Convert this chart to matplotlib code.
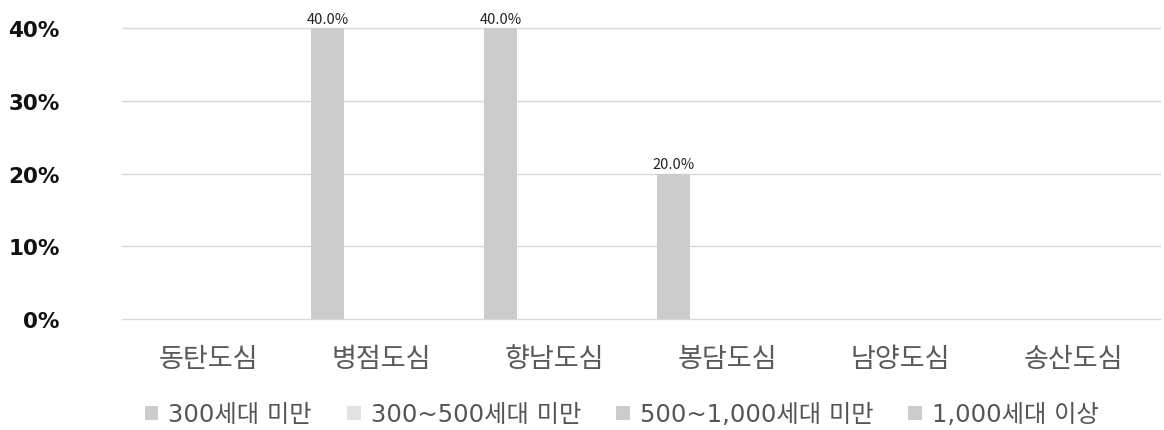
import numpy as np
import matplotlib.pyplot as plt

plt.rcParams['font.family'] = ['Noto Sans CJK KR', 'DejaVu Sans']

# 데이터
categories = ['동탄도심', '병점도심', '향남도심', '봉담도심', '남양도심', '송산도심']
series_names = ['300세대 미만', '300~500세대 미만', '500~1,000세대 미만', '1,000세대 이상']
values = {
    '300세대 미만': [0.0, 40.0, 40.0, 20.0, 0.0, 0.0],
    '300~500세대 미만': [0.0, 0.0, 0.0, 0.0, 0.0, 0.0],
    '500~1,000세대 미만': [0.0, 0.0, 0.0, 0.0, 0.0, 0.0],
    '1,000세대 이상': [0.0, 0.0, 0.0, 0.0, 0.0, 0.0],
}
colors = ['#cccccc', '#e3e3e3', '#cccccc', '#cccccc']

fig = plt.figure(figsize=(11.64, 4.31), dpi=100)
ax = fig.add_axes([0.1048, 0.2575, 0.892, 0.6752])

x = np.arange(len(categories))
width = 0.19
step = 0.207
for i, name in enumerate(series_names):
    vals = np.array(values[name])
    pos = x + (i - 1.5) * step
    ax.bar(pos, vals, width=width, color=colors[i], label=name, zorder=3)
    for p, v in zip(pos, vals):
        if v > 0:
            ax.text(p, v + 0.3, f'{v:.1f}%', ha='center', va='bottom',
                    fontsize=10.5, color='#222222')

ax.set_ylim(0, 40)
ax.set_xlim(-0.5, 5.5)
ax.set_yticks([0, 10, 20, 30, 40])
ax.set_yticklabels([f'{t}%' for t in [0, 10, 20, 30, 40]],
                   fontsize=15.5, fontweight='bold', color='#111111',
                   family='DejaVu Sans')
ax.set_xticks(x)
ax.set_xticklabels(categories, fontsize=19.5, color='#5a5a5a')
ax.tick_params(axis='y', length=0, pad=45)
ax.tick_params(axis='x', length=0, pad=19)
ax.grid(axis='y', color='#d9d9d9', linewidth=1, zorder=0)
for gl in ax.get_ygridlines():
    gl.set_clip_on(False)
for s in ax.spines.values():
    s.set_visible(False)

fig.legend(loc='center left', bbox_to_anchor=(0.1246, 0.036), ncol=4,
           frameon=False, handlelength=0.55, handleheight=0.55,
           handletextpad=0.41, columnspacing=1.45, borderpad=0,
           borderaxespad=0, labelcolor='#555555',
           prop={'family': ['DejaVu Sans', 'Noto Sans CJK KR'], 'size': 17.5})

fig.savefig('out.png', dpi=100)
